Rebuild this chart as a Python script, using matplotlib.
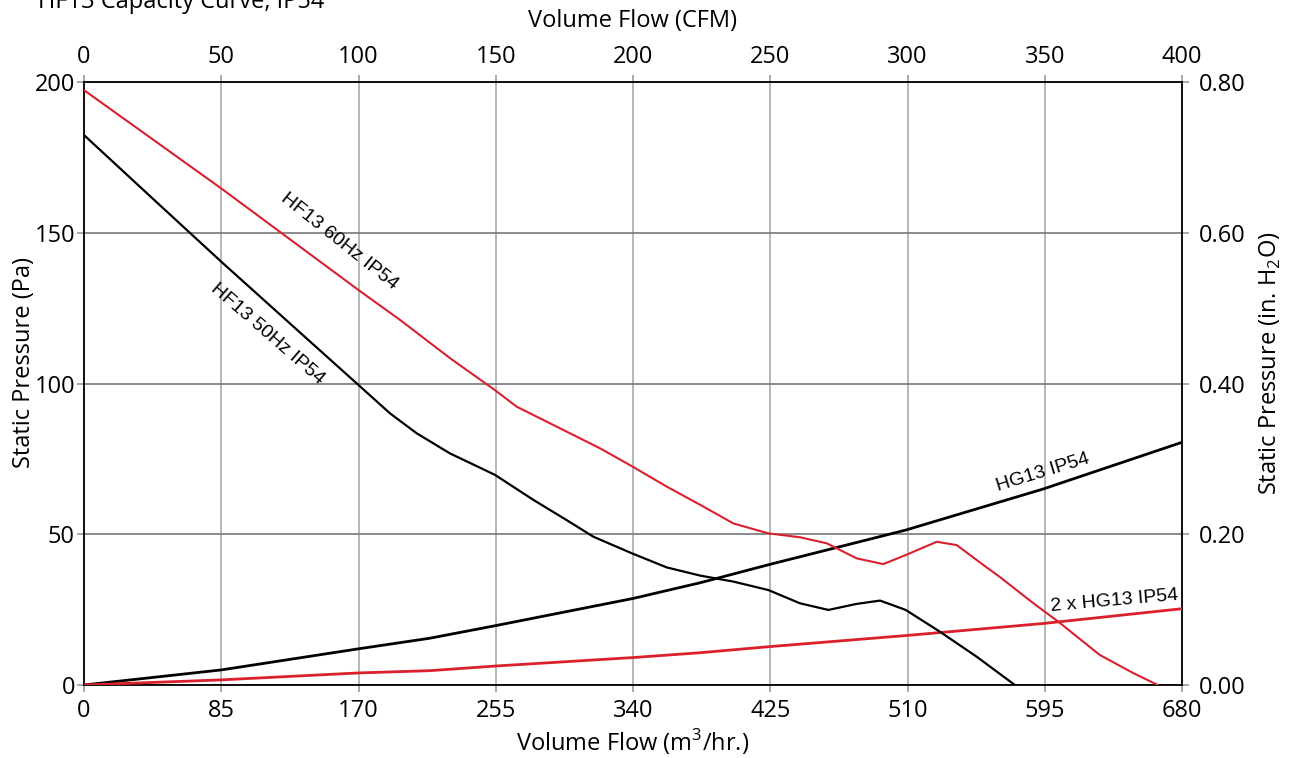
import matplotlib
matplotlib.use("Agg")
import matplotlib.pyplot as plt

# ---- data ----
flow_50 = [0, 42, 85, 134, 170, 189.5, 206, 226.7, 254.5, 278.3, 298.9, 315.4, 339.2,
           360.9, 381.5, 402.1, 423.8, 443.4, 461, 478.5, 493, 508.9, 530, 552.8, 576.5]
pa_50 = [182.4, 161.6, 140.4, 116.8, 99.5, 90.1, 83.5, 76.8, 69.7, 61.4, 54.7, 49.2, 43.7,
         39.0, 36.3, 34.3, 31.5, 27.1, 24.9, 26.9, 28.0, 24.9, 17.7, 9.4, 0.0]

flow_60 = [0, 85, 170, 195.7, 226.7, 254.5, 268, 288.6, 319.6, 339.2, 360.9, 381.5, 402.1,
           423.8, 443.4, 460, 478.5, 495, 508.9, 528.1, 540.5, 557, 567, 588, 603.4, 629, 650, 665]
pa_60 = [197.3, 164.7, 131.0, 121.1, 108.4, 97.8, 92.3, 86.8, 78.5, 72.6, 65.8, 59.8, 53.6,
         50.3, 49.0, 47.0, 42.0, 40.1, 43.1, 47.5, 46.4, 39.8, 35.9, 27.1, 21.0, 10.0, 3.9, 0.0]

flow_hg = [0, 85, 170, 214, 255, 340, 381.5, 424, 509, 594, 680]
pa_hg = [0.0, 5.0, 12.0, 15.5, 19.7, 28.7, 33.9, 39.9, 51.4, 65.0, 80.5]

flow_2hg = [0, 85, 170, 214, 255, 340, 381.5, 424, 509, 594, 680]
pa_2hg = [0.0, 1.7, 4.0, 4.75, 6.3, 9.1, 10.7, 12.7, 16.4, 20.4, 25.3]

x_ticks = [0, 85, 170, 255, 340, 425, 510, 595, 680]
y_ticks = [0, 50, 100, 150, 200]
cfm_ticks = [0, 50, 100, 150, 200, 250, 300, 350, 400]
inh2o_ticks = [0.0, 0.2, 0.4, 0.6, 0.8]

RED = "#d9202c"
FONT = "Open Sans"
LBL = "Liberation Sans"
FS = 17

plt.rcParams["font.family"] = [FONT, "DejaVu Sans"]
plt.rcParams["mathtext.fontset"] = "custom"
plt.rcParams["mathtext.rm"] = FONT

fig = plt.figure(figsize=(12.94, 7.58), dpi=100)
ax = fig.add_axes([84 / 1294, 1 - 685 / 758, 1098 / 1294, 603 / 758])

ax.set_xlim(0, 680)
ax.set_ylim(0, 200)
ax.set_xticks(x_ticks)
ax.set_yticks(y_ticks)
ax.tick_params(axis="both", labelsize=FS, length=5, width=1.2, color="#999999")
ax.tick_params(axis="x", pad=5)
ax.tick_params(axis="y", pad=1.5)
ax.grid(axis="x", color="#aaaaaa", linewidth=1.2)
ax.grid(axis="y", color="#777777", linewidth=1.2)
ax.set_axisbelow(True)
for s in ax.spines.values():
    s.set_color("black")
    s.set_linewidth(1.3)

ax.plot(flow_hg, pa_hg, color="black", lw=2.0, zorder=3)
ax.plot(flow_2hg, pa_2hg, color=RED, lw=2.0, zorder=3)
ax.plot(flow_50, pa_50, color="black", lw=1.6, zorder=4)
ax.plot(flow_60, pa_60, color=RED, lw=1.5, zorder=4)

ax.text(158, 147, "HF13 60Hz IP54", rotation=-38.5, fontsize=14, family=LBL,
        ha="center", va="center", rotation_mode="anchor")
ax.text(113.6, 116.4, "HF13 50Hz IP54", rotation=-41, fontsize=14, family=LBL,
        ha="center", va="center", rotation_mode="anchor")
ax.text(594, 70.3, "HG13 IP54", rotation=17, fontsize=14, family=LBL,
        ha="center", va="center", rotation_mode="anchor")
ax.text(638, 28.0, "2 x HG13 IP54", rotation=5, fontsize=14, family=LBL,
        ha="center", va="center", rotation_mode="anchor")

ax.set_xlabel("Volume Flow (m$^3$/hr.)", fontsize=FS, labelpad=3)
ax.set_ylabel("Static Pressure (Pa)", fontsize=FS)
ax.yaxis.set_label_coords(-0.044, 0.534)

top = ax.secondary_xaxis("top", functions=(lambda x: x * 400 / 680, lambda x: x * 680 / 400))
top.set_xticks(cfm_ticks)
top.set_xlabel("Volume Flow (CFM)", fontsize=FS, labelpad=13)
top.spines["top"].set_visible(False)
top.tick_params(labelsize=FS, length=5, width=1.2, color="#999999", pad=4)

right = ax.secondary_yaxis("right", functions=(lambda y: y * 0.004, lambda y: y / 0.004))
right.set_yticks(inh2o_ticks)
right.set_yticklabels([f"{v:.2f}" for v in inh2o_ticks])
right.set_ylabel("Static Pressure (in. H$_2$O)", fontsize=FS)
right.yaxis.set_label_coords(1.069, 0.534, transform=ax.transAxes)
right.spines["right"].set_visible(False)
right.tick_params(labelsize=FS, length=5, width=1.2, color="#999999", pad=7)

fig.text(38 / 1294, 1 - 7.5 / 758, "HF13 Capacity Curve, IP54", fontsize=FS,
         ha="left", va="baseline")

fig.savefig("out.png", dpi=100)
